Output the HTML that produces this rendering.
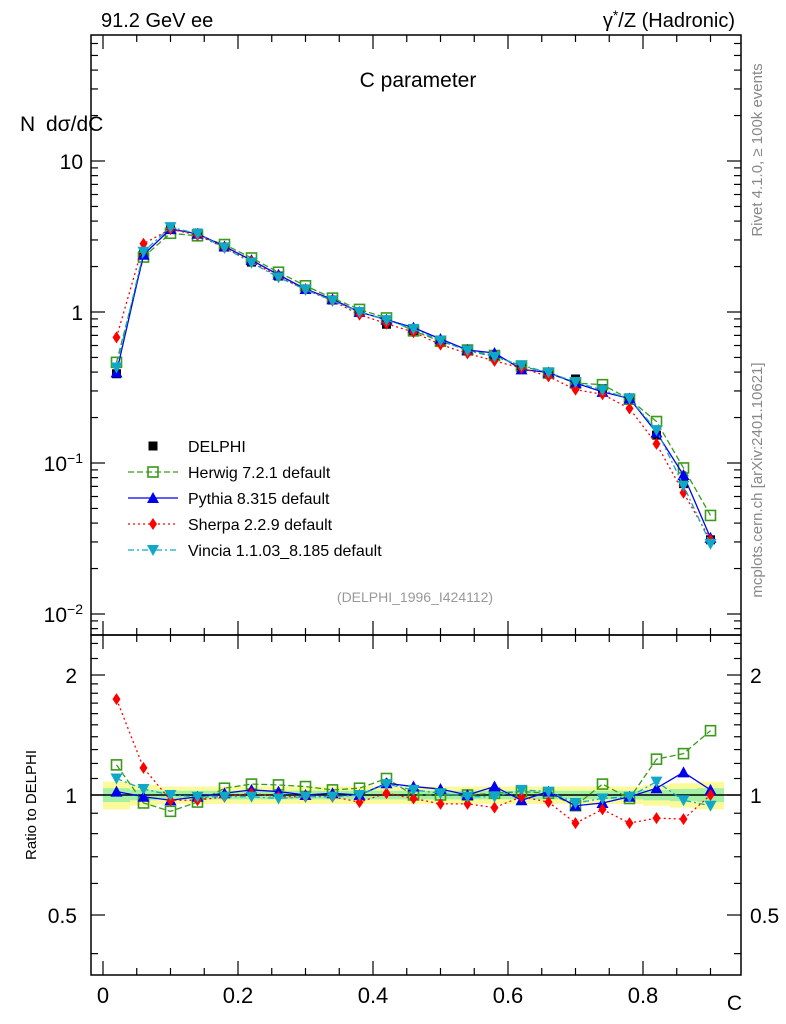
<!DOCTYPE html>
<html><head><meta charset="utf-8"><style>
body{margin:0;background:#fff;}
svg{display:block;font-family:"Liberation Sans",sans-serif;}
</style></head><body>
<svg id="c" width="786" height="1024"></svg>
<script>
const centers=[0.02,0.06,0.10,0.14,0.18,0.22,0.26,0.30,0.34,0.38,0.42,0.46,0.50,0.54,0.58,0.62,0.66,0.70,0.74,0.78,0.82,0.86,0.90];
const delphi=[0.39,2.42,3.65,3.33,2.69,2.14,1.73,1.42,1.2,1.0,0.83,0.75,0.64,0.56,0.51,0.43,0.39,0.36,0.31,0.27,0.153,0.073,0.031];
const herwigRatio=[1.19,0.955,0.91,0.96,1.04,1.065,1.06,1.05,1.03,1.04,1.1,1.0,1.0,1.0,1.01,1.02,1.01,0.94,1.065,0.98,1.23,1.27,1.45];
const pythiaRatio=[1.02,0.99,0.97,0.99,1.01,1.03,1.02,1.0,1.01,1.0,1.07,1.05,1.035,1.0,1.05,0.97,1.02,0.94,0.955,0.99,1.04,1.14,1.03];
const sherpaRatio=[1.74,1.17,0.97,0.97,0.99,1.01,0.99,0.99,0.99,0.96,1.01,0.98,0.95,0.95,0.93,0.99,0.96,0.85,0.92,0.85,0.875,0.87,1.0];
const vinciaRatio=[1.10,1.035,1.0,0.99,0.99,0.99,0.98,0.99,0.99,1.0,1.065,1.03,1.01,0.99,0.99,1.03,1.02,0.955,0.98,0.99,1.08,0.97,0.94];
const yellowErr=[0.08,0.06,0.05,0.05,0.05,0.05,0.05,0.05,0.05,0.05,0.05,0.05,0.05,0.05,0.05,0.05,0.05,0.05,0.05,0.05,0.06,0.07,0.08];
const greenErr=[0.04,0.03,0.025,0.025,0.025,0.025,0.025,0.025,0.025,0.025,0.025,0.025,0.025,0.025,0.025,0.025,0.025,0.025,0.025,0.025,0.03,0.035,0.04];
const xTicks=[0,0.2,0.4,0.6,0.8];
const xTickLabels=["0","0.2","0.4","0.6","0.8"];

const svg=document.getElementById('c');
const NS='http://www.w3.org/2000/svg';
function el(t,a,p){const e=document.createElementNS(NS,t);for(const k in a)e.setAttribute(k,a[k]);(p||svg).appendChild(e);return e;}
const L=91,R=741,T=35,M=635,B=975;
const X=v=>103+v*675;
const Y=v=>312-Math.log10(v)*151;
const YR=v=>795-Math.log2(v)*120;
const models=[
 {name:'Herwig 7.2.1 default',r:herwigRatio,c:'#3a9a1a',dash:'6,3',m:'sq'},
 {name:'Pythia 8.315 default',r:pythiaRatio,c:'#0000ee',dash:'',m:'tri'},
 {name:'Sherpa 2.2.9 default',r:sherpaRatio,c:'#ff0000',dash:'2,3',m:'dia'},
 {name:'Vincia 1.1.03_8.185 default',r:vinciaRatio,c:'#10a8c8',dash:'6,3,2,3',m:'itri'}];
function marker(g,m,x,y,c){
 if(m==='sq')el('rect',{x:x-5,y:y-5,width:10,height:10,fill:'none',stroke:c,'stroke-width':1.6},g);
 else if(m==='tri')el('polygon',{points:`${x},${y-6} ${x-6},${y+5} ${x+6},${y+5}`,fill:c},g);
 else if(m==='itri')el('polygon',{points:`${x},${y+6} ${x-6},${y-5} ${x+6},${y-5}`,fill:c},g);
 else if(m==='dia')el('polygon',{points:`${x},${y-6} ${x-4},${y} ${x},${y+6} ${x+4},${y}`,fill:c},g);
 else if(m==='box')el('rect',{x:x-4.5,y:y-4.5,width:9,height:9,fill:'#000'},g);
}
const defs=el('defs',{});
const cp1=el('clipPath',{id:'cm'},defs);el('rect',{x:L,y:T,width:R-L,height:M-T},cp1);
const cp2=el('clipPath',{id:'cr'},defs);el('rect',{x:L,y:M,width:R-L,height:B-M},cp2);
const band=el('g',{'clip-path':'url(#cr)'});
centers.forEach((c,i)=>{
 el('rect',{x:X(c-0.02),y:YR(1+yellowErr[i]),width:X(0.04)-X(0),height:YR(1-yellowErr[i])-YR(1+yellowErr[i]),fill:'#fbfa9a'},band);
 el('rect',{x:X(c-0.02),y:YR(1+greenErr[i]),width:X(0.04)-X(0),height:YR(1-greenErr[i])-YR(1+greenErr[i]),fill:'#a4f0a4'},band);
});
el('line',{x1:L,x2:R,y1:YR(1),y2:YR(1),stroke:'#000','stroke-width':1.5});
const gd=el('g',{'clip-path':'url(#cm)'});
centers.forEach((c,i)=>marker(gd,'box',X(c),Y(delphi[i]),'#000'));
const gm=el('g',{'clip-path':'url(#cm)'});
const gr=el('g',{'clip-path':'url(#cr)'});
models.forEach(md=>{
 const vals=md.r.map((r,i)=>r*delphi[i]);
 const g1=el('g',{},gm);
 el('polyline',{points:centers.map((c,i)=>X(c)+','+Y(vals[i])).join(' '),fill:'none',stroke:md.c,'stroke-width':1.3,'stroke-dasharray':md.dash},g1);
 centers.forEach((c,i)=>marker(g1,md.m,X(c),Y(vals[i]),md.c));
 const g2=el('g',{},gr);
 el('polyline',{points:centers.map((c,i)=>X(c)+','+YR(md.r[i])).join(' '),fill:'none',stroke:md.c,'stroke-width':1.3,'stroke-dasharray':md.dash},g2);
 centers.forEach((c,i)=>marker(g2,md.m,X(c),YR(md.r[i]),md.c));
});
el('rect',{x:L,y:T,width:R-L,height:M-T,fill:'none',stroke:'#000','stroke-width':1.5});
el('rect',{x:L,y:M,width:R-L,height:B-M,fill:'none',stroke:'#000','stroke-width':1.5});
for(let k=0;k<=18;k++){const v=k*0.05;const x=X(v);if(x>R)break;const big=k%4===0;const len=big?14:7;
 [T,M].forEach(y0=>el('line',{x1:x,x2:x,y1:y0,y2:y0+len,stroke:'#000','stroke-width':1.2}));
 [M,B].forEach(y0=>el('line',{x1:x,x2:x,y1:y0,y2:y0-len,stroke:'#000','stroke-width':1.2}));}
xTicks.forEach((v,i)=>{const t=el('text',{x:X(v),y:1003,'font-size':22,'text-anchor':'middle'});t.textContent=xTickLabels[i];});
for(let d=-3;d<=1;d++)for(let m=1;m<=9;m++){const v=m*Math.pow(10,d);const y=Y(v);if(y<T||y>M)continue;const len=m===1?14:7;
 el('line',{x1:L,x2:L+len,y1:y,y2:y,stroke:'#000','stroke-width':1.2});el('line',{x1:R,x2:R-len,y1:y,y2:y,stroke:'#000','stroke-width':1.2});}
function lab(x,y,txt,sz,anchor,extra){const t=el('text',Object.assign({x:x,y:y,'font-size':sz,'text-anchor':anchor||'start'},extra||{}));t.innerHTML=txt;return t;}
lab(83,169,'10',21,'end');lab(83,320,'1',21,'end');
lab(83,471,'10<tspan dy="-8" font-size="14">−1</tspan>',21,'end');
lab(83,622,'10<tspan dy="-8" font-size="14">−2</tspan>',21,'end');
[0.4,0.5,0.6,0.7,0.8,0.9,1,1.1,1.2,1.3,1.4,1.5,1.6,1.7,1.8,1.9,2,2.2,2.4].forEach(v=>{const y=YR(v);if(y<M||y>B)return;const big=(v===0.5||v===1||v===2);const len=big?14:7;
 el('line',{x1:L,x2:L+len,y1:y,y2:y,stroke:'#000','stroke-width':1.2});el('line',{x1:R,x2:R-len,y1:y,y2:y,stroke:'#000','stroke-width':1.2});});
[[0.5,'0.5'],[1,'1'],[2,'2']].forEach(p=>{lab(77,YR(p[0])+8,p[1],21,'end');lab(750,YR(p[0])+8,p[1],21,'start');});
lab(101,27,'91.2 GeV ee',20,'start');
lab(735,27,'γ<tspan dy="-7" font-size="14">*</tspan><tspan dy="7">/Z (Hadronic)</tspan>',20,'end');
lab(418,87,'C parameter',21,'middle');
lab(20,131,'N',21,'start');lab(46,131,'dσ/dC',21,'start');
lab(742,1010,'C',21,'end');
lab(36,805,'Ratio to DELPHI',15,'middle',{transform:'rotate(-90 36 805)'});
lab(415,602,'(DELPHI_1996_I424112)',14,'middle',{fill:'#999'});
lab(762,150,'Rivet 4.1.0, ≥ 100k events',15,'middle',{fill:'#888',transform:'rotate(-90 762 150)'});
lab(762,480,'mcplots.cern.ch [arXiv:2401.10621]',15,'middle',{fill:'#888',transform:'rotate(-90 762 480)'});
const lg=el('g',{});
marker(lg,'box',153,446,'#000');lab(188,452,'DELPHI',16,'start');
models.forEach((md,i)=>{const y=472+i*26;
 el('line',{x1:128,x2:178,y1:y,y2:y,stroke:md.c,'stroke-width':1.3,'stroke-dasharray':md.dash},lg);
 marker(lg,md.m,153,y,md.c);
 const t=el('text',{x:188,y:y+6,'font-size':16},lg);t.textContent=md.name;});
</script>
</body></html>
